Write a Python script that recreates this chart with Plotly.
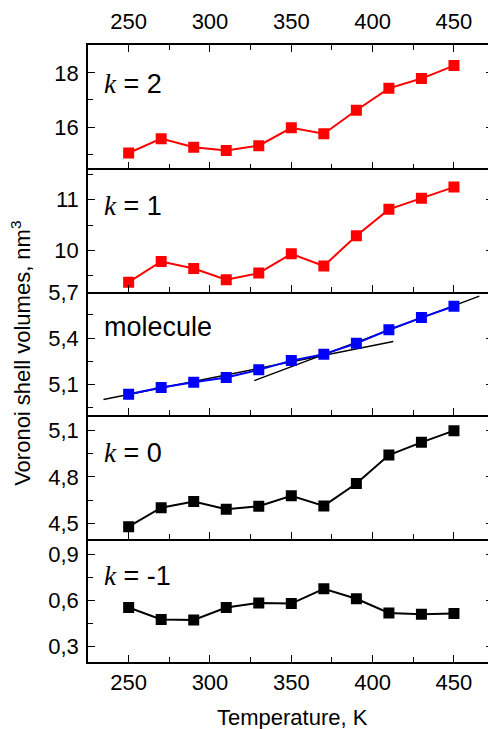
import plotly.graph_objects as go

# ---- data ----
temperature = [250, 270, 290, 310, 330, 350, 370, 390, 410, 430, 450]
v_k2 = [15.04, 15.57, 15.25, 15.13, 15.31, 15.97, 15.75, 16.62, 17.43, 17.79, 18.27]
v_k1 = [9.37, 9.78, 9.64, 9.42, 9.55, 9.93, 9.69, 10.29, 10.81, 11.03, 11.25]
v_mol = [5.036, 5.079, 5.113, 5.145, 5.194, 5.254, 5.295, 5.366, 5.454, 5.533, 5.606]
v_k0 = [4.477, 4.60, 4.64, 4.59, 4.61, 4.677, 4.612, 4.757, 4.942, 5.024, 5.10]
v_km1 = [0.553, 0.476, 0.472, 0.553, 0.583, 0.579, 0.675, 0.61, 0.518, 0.509, 0.515]

fit1_T = [234.5, 412.7]
fit1_V = [5.002, 5.378]
fit2_T = [327.2, 465.6]
fit2_V = [5.124, 5.672]

panel_labels = ["<span style='font-family:Liberation Serif'><i>k</i></span> = 2",
                "<span style='font-family:Liberation Serif'><i>k</i></span> = 1",
                "molecule",
                "<span style='font-family:Liberation Serif'><i>k</i></span> = 0",
                "<span style='font-family:Liberation Serif'><i>k</i></span> = -1"]
y_ranges = [[14.47, 19.03], [9.18, 11.62], [4.9, 5.7001], [4.4, 5.2], [0.2, 1.0]]
y_tickvals = [[16, 18], [10, 11], [5.1, 5.4, 5.7], [4.5, 4.8, 5.1], [0.3, 0.6, 0.9]]
y_minor = [1, 0.5, 0.15, 0.15, 0.15]
y_minor0 = [15, 9.5, 4.95, 4.35, 0.15]
x_range = [225, 474]
x_tickvals = [250, 300, 350, 400, 450]

RED = "#FF0000"
BLUE = "#0000FF"
BLACK = "#000000"
FONT = "Arial, Liberation Sans, sans-serif"

series = [(v_k2, RED), (v_k1, RED), (v_mol, BLUE), (v_k0, BLACK), (v_km1, BLACK)]

fig = go.Figure()
for i, (vals, col) in enumerate(series):
    sfx = "" if i == 0 else str(i + 1)
    if i == 2:
        fig.add_trace(go.Scatter(x=fit1_T, y=fit1_V, mode="lines",
                                 line=dict(color=BLACK, width=1.5),
                                 xaxis="x" + sfx, yaxis="y" + sfx, showlegend=False))
        fig.add_trace(go.Scatter(x=fit2_T, y=fit2_V, mode="lines",
                                 line=dict(color=BLACK, width=1.5),
                                 xaxis="x" + sfx, yaxis="y" + sfx, showlegend=False))
    fig.add_trace(go.Scatter(x=temperature, y=vals, mode="lines+markers",
                             line=dict(color=col, width=2),
                             marker=dict(symbol="square", size=11, color=col,
                                         line=dict(width=0)),
                             xaxis="x" + sfx, yaxis="y" + sfx, showlegend=False))

# page body has an 8px default margin, so the figure is 8px smaller
layout = dict(
    width=488, height=721,
    margin=dict(l=80, r=1, t=33, b=67),
    plot_bgcolor="white", paper_bgcolor="white",
    separators=", ",
    font=dict(family=FONT, size=22, color=BLACK),
    showlegend=False,
)

annotations = []
for i in range(5):
    sfx = "" if i == 0 else str(i + 1)
    lo = 0.2 * (4 - i)
    hi = lo + 0.2
    xa = dict(
        domain=[0, 1], range=x_range, anchor="y" + sfx,
        showline=True, linecolor=BLACK, linewidth=1.6,
        ticks="inside", ticklen=7, tickwidth=1.4, tickcolor=BLACK,
        tickvals=x_tickvals, showgrid=False, zeroline=False,
        minor=dict(ticks="inside", ticklen=5, tickwidth=1.4, tickcolor=BLACK,
                   dtick=25, tick0=225, showgrid=False),
        tickfont=dict(size=22),
        showticklabels=(i == 0 or i == 4),
    )
    if i == 0:
        xa["side"] = "top"
        xa["mirror"] = "ticks"
        xa["ticklabelstandoff"] = 5
    else:
        xa["matches"] = "x"
        xa["ticklabelstandoff"] = 0
    ya = dict(
        domain=[lo, hi], range=y_ranges[i], anchor="x" + sfx,
        showline=True, linecolor=BLACK, linewidth=1.6, mirror="ticks",
        ticks="inside", ticklen=7, tickwidth=1.4, tickcolor=BLACK,
        tickvals=y_tickvals[i], showgrid=False, zeroline=False,
        minor=dict(ticks="inside", ticklen=5, tickwidth=1.4, tickcolor=BLACK,
                   dtick=y_minor[i], tick0=y_minor0[i], showgrid=False),
        tickfont=dict(size=22), ticklabelstandoff=3,
    )
    layout["xaxis" + sfx] = xa
    layout["yaxis" + sfx] = ya
    annotations.append(dict(
        text=panel_labels[i], xref="x" + sfx + " domain", yref="y" + sfx + " domain",
        x=0.035, y=[0.685, 0.694, 0.716, 0.695, 0.696][i],
        xanchor="left", yanchor="middle", showarrow=False,
        font=dict(size=27, color=BLACK, family=FONT)))

annotations.append(dict(text="Voronoi shell volumes, nm<sup>3</sup>",
                        xref="paper", yref="paper", x=-0.167, y=0.5,
                        xanchor="center", yanchor="middle", textangle=-90,
                        showarrow=False, font=dict(size=22, color=BLACK)))
annotations.append(dict(text="Temperature, K", xref="paper", yref="paper",
                        x=0.504, y=-0.09, xanchor="center", yanchor="middle",
                        showarrow=False, font=dict(size=22, color=BLACK)))
layout["annotations"] = annotations

fig.update_layout(**layout)
fig.write_html("out.html")
